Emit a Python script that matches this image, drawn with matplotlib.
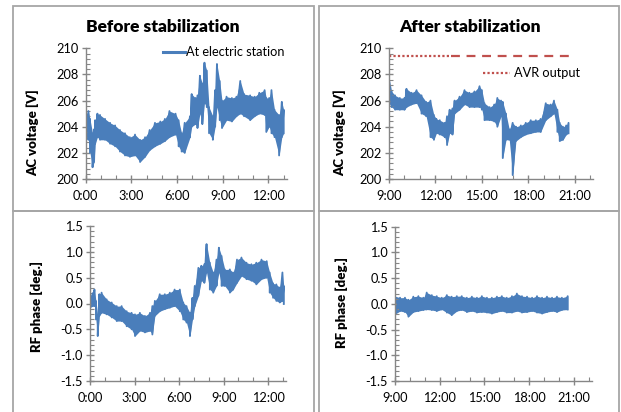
import matplotlib
matplotlib.use("Agg")
import matplotlib.pyplot as plt
from matplotlib.patches import Rectangle
from matplotlib.lines import Line2D

plt.rcParams['font.family'] = ['Lato', 'DejaVu Sans']

# ---------------- data (hours, upper / lower edge of the noisy trace) ----------------
before_v_time = [0.00, 0.18, 0.28, 0.45, 0.55, 0.62, 0.77, 0.94, 1.27, 1.60, 1.93, 2.25, 2.58,
                 2.90, 3.24, 3.57, 3.90, 4.20, 4.55, 4.90, 5.20, 5.50, 5.90, 6.10, 6.30, 6.50,
                 6.85, 6.96, 7.20, 7.34, 7.50, 7.66, 7.80, 7.95, 8.10, 8.35, 8.50, 8.62, 8.80,
                 8.95, 9.25, 9.60, 9.90, 10.15, 10.40, 10.80, 11.10, 11.40, 11.75, 11.86, 12.05,
                 12.20, 12.40, 12.70, 12.88, 13.00]
before_v_high = [204.9, 205.2, 204.6, 203.5, 203.8, 204.5, 205.0, 204.9, 204.6, 204.3, 204.1, 203.75,
                 203.5, 203.2, 203.4, 203.0, 203.2, 203.75, 204.3, 204.4, 204.6, 205.2, 205.0, 204.5,
                 203.5, 204.3, 204.8, 206.5, 206.2, 206.4, 207.9, 207.3, 208.9, 208.3, 205.5, 204.8,
                 206.8, 208.8, 207.5, 206.0, 206.3, 206.2, 206.3, 207.5, 206.5, 206.4, 206.3, 206.6,
                 206.8, 206.2, 206.2, 206.8, 205.3, 204.9, 205.9, 205.3]
before_v_low = [203.1, 203.0, 202.0, 200.9, 201.3, 202.7, 203.2, 203.0, 203.0, 202.7, 202.5, 202.1,
                201.8, 201.7, 201.8, 201.3, 201.7, 202.2, 202.5, 202.7, 202.9, 203.2, 203.4, 202.5,
                202.1, 202.0, 203.2, 204.0, 204.2, 203.9, 205.0, 204.2, 205.8, 205.5, 203.5, 203.0,
                204.0, 205.5, 204.5, 203.9, 204.5, 204.4, 204.8, 205.0, 204.8, 204.5, 204.8, 205.0,
                204.9, 203.6, 204.0, 203.5, 203.2, 201.8, 203.2, 203.5]

after_v_time = [9.00, 9.17, 9.39, 9.70, 10.00, 10.13, 10.46, 10.78, 11.10, 11.40, 11.68, 11.90,
                12.06, 12.28, 12.60, 12.75, 12.92, 13.10, 13.24, 13.56, 13.88, 14.20, 14.52, 14.85,
                15.00, 15.17, 15.50, 15.80, 16.00, 16.24, 16.35, 16.56, 16.77, 16.99, 17.20, 17.52,
                17.84, 18.16, 18.49, 18.80, 19.13, 19.45, 19.66, 19.88, 20.03, 20.24, 20.45, 20.60]
after_v_high = [207.8, 206.7, 206.4, 206.2, 206.2, 206.9, 206.6, 206.8, 206.4, 205.9, 206.0, 204.9,
                204.6, 204.5, 204.3, 204.8, 205.3, 205.4, 206.0, 206.3, 206.8, 206.6, 206.7, 207.1,
                206.8, 205.8, 205.5, 205.7, 206.2, 206.0, 205.9, 205.0, 203.8, 204.3, 204.0, 204.1,
                204.3, 204.5, 204.5, 204.6, 205.8, 205.7, 206.0, 205.3, 204.3, 204.0, 204.1, 204.3]
after_v_low = [205.8, 205.5, 205.3, 205.3, 205.3, 205.5, 205.7, 205.8, 205.0, 204.8, 203.2, 203.0,
               203.5, 203.4, 203.2, 202.6, 203.5, 203.4, 205.0, 205.3, 205.7, 205.5, 205.5, 205.5,
               205.3, 204.5, 204.5, 204.4, 204.0, 204.8, 201.6, 203.0, 203.0, 200.3, 202.9, 203.2,
               203.4, 203.5, 203.6, 203.6, 204.5, 204.8, 205.0, 203.6, 202.9, 203.0, 203.4, 203.5]

avr_level = 209.4
avr_dotted_span = [9.0, 13.0]
avr_dashed_span = [13.0, 20.6]

before_p_time = [0.00, 0.18, 0.30, 0.40, 0.52, 0.63, 0.78, 1.12, 1.46, 1.80, 2.13, 2.47, 2.80,
                 3.03, 3.36, 3.70, 4.04, 4.20, 4.37, 4.70, 5.04, 5.38, 5.70, 6.05, 6.28, 6.50,
                 6.73, 6.90, 7.06, 7.30, 7.50, 7.70, 7.85, 8.07, 8.30, 8.52, 8.68, 8.86, 9.08,
                 9.42, 9.64, 9.90, 10.20, 10.54, 10.87, 11.20, 11.55, 11.90, 12.10, 12.33, 12.55,
                 12.78, 12.96, 13.05]
before_p_high = [0.15, 0.20, 0.27, 0.05, -0.24, 0.18, 0.21, 0.08, 0.02, -0.05, -0.05, -0.15, -0.18,
                 -0.21, -0.18, -0.24, -0.18, -0.05, 0.05, 0.18, 0.18, 0.21, 0.27, 0.27, 0.02, -0.05,
                 -0.18, 0.11, 0.34, 0.69, 0.73, 0.76, 1.15, 0.79, 0.60, 0.85, 1.08, 0.92, 0.66,
                 0.66, 0.60, 0.85, 0.89, 0.79, 0.76, 0.79, 0.85, 0.82, 0.60, 0.39, 0.37, 0.31, 0.60, 0.34]
before_p_low = [-0.08, -0.05, -0.05, -0.31, -0.63, -0.24, -0.18, -0.21, -0.27, -0.34, -0.34, -0.44,
                -0.50, -0.63, -0.53, -0.56, -0.53, -0.60, -0.24, -0.15, -0.11, -0.08, -0.05, -0.15,
                -0.31, -0.37, -0.63, -0.31, -0.05, 0.15, 0.44, 0.40, 0.60, 0.27, 0.21, 0.34, 0.60,
                0.34, 0.34, 0.21, 0.27, 0.40, 0.53, 0.47, 0.44, 0.37, 0.47, 0.50, 0.21, 0.11, 0.05,
                0.02, 0.05, -0.01]

after_p_time = [9.00, 9.34, 9.67, 9.90, 10.23, 10.57, 10.90, 11.13, 11.47, 11.80, 12.14, 12.48,
                12.80, 13.15, 13.48, 13.82, 14.16, 14.50, 14.83, 15.17, 15.50, 15.84, 16.17, 16.50,
                16.85, 17.18, 17.52, 17.86, 18.20, 18.53, 18.87, 19.20, 19.54, 19.87, 20.20, 20.59]
after_p_high = [0.15, 0.12, 0.12, 0.08, 0.14, 0.15, 0.12, 0.22, 0.17, 0.15, 0.12, 0.17, 0.14, 0.15,
                0.15, 0.12, 0.14, 0.12, 0.15, 0.12, 0.12, 0.14, 0.15, 0.12, 0.15, 0.20, 0.15, 0.14,
                0.12, 0.15, 0.12, 0.14, 0.12, 0.14, 0.12, 0.15]
after_p_low = [-0.20, -0.14, -0.16, -0.25, -0.16, -0.14, -0.12, -0.11, -0.12, -0.14, -0.11, -0.17,
               -0.22, -0.14, -0.12, -0.16, -0.14, -0.17, -0.16, -0.17, -0.19, -0.16, -0.14, -0.17,
               -0.17, -0.14, -0.17, -0.16, -0.14, -0.17, -0.19, -0.16, -0.14, -0.16, -0.12, -0.11]

left_xticks = [0, 3, 6, 9, 12]
left_xticklabels = ["0:00", "3:00", "6:00", "9:00", "12:00"]
right_xticks = [9, 12, 15, 18, 21]
right_xticklabels = ["9:00", "12:00", "15:00", "18:00", "21:00"]
volt_ticks = [200, 202, 204, 206, 208, 210]
phase_ticks = [-1.5, -1.0, -0.5, 0.0, 0.5, 1.0, 1.5]
phase_ticklabels = ["-1.5", "-1.0", "-0.5", "0.0", "0.5", "1.0", "1.5"]

titles = ["Before stabilization", "After stabilization"]
volt_label = "AC voltage [V]"
phase_label = "RF phase [deg.]"
legend_station = "At electric station"
legend_avr = "AVR output"

# ---------------- figure ----------------
W, H = 621, 412
fig = plt.figure(figsize=(W / 100, H / 100), dpi=100)
BLUE = '#4A7EBB'
RED = '#C0504D'
AX_GRAY = '#868686'
TICK_FS = 9.2


def px_axes(x0, y0, x1, y1):
    return fig.add_axes([x0 / W, 1 - y1 / H, (x1 - x0) / W, (y1 - y0) / H])


def fx(x):
    return x / W


def fy(y):
    return 1 - y / H


# panel borders
for (x0, y0, x1, y1) in [(13.3, 6, 313.7, 211), (319.3, 6, 619.3, 211),
                         (13.3, 211, 313.7, 420), (319.3, 211, 619.3, 420)]:
    fig.patches.append(Rectangle((fx(x0), fy(y1)), (x1 - x0) / W, (y1 - y0) / H,
                                 transform=fig.transFigure, fill=False,
                                 edgecolor='#A6A6A6', linewidth=1.3))


def style(ax, xlim, xticks, xlabels, ylim, yticks, ylabels, yminor):
    ax.set_xlim(*xlim)
    ax.set_ylim(*ylim)
    ax.set_xticks(xticks)
    ax.set_xticklabels(xlabels)
    ax.set_xticks([h for h in range(int(xlim[0]), int(xlim[1]) + 1)], minor=True)
    ax.set_yticks(yticks)
    ax.set_yticklabels(ylabels)
    ax.set_yticks(yminor, minor=True)
    for s in ['top', 'right']:
        ax.spines[s].set_visible(False)
    for s in ['left', 'bottom']:
        ax.spines[s].set_color(AX_GRAY)
        ax.spines[s].set_linewidth(1.0)
    ax.tick_params(which='major', direction='inout', length=6, width=1.0, color=AX_GRAY,
                   labelsize=TICK_FS, labelcolor='black', pad=2)
    ax.tick_params(which='minor', direction='in', length=3, width=0.8, color=AX_GRAY)
    ax.tick_params(axis='x', which='major', pad=5)
    ax.set_facecolor('none')


def draw_band(ax, t, hi, lo):
    ax.fill_between(t, lo, hi, color=BLUE, linewidth=0)
    zt, zv = [], []
    for a, b, c in zip(t, hi, lo):
        zt += [a, a]
        zv += [b, c]
    ax.plot(zt, zv, color=BLUE, linewidth=1.3, solid_joinstyle='round')


volt_minor = [200 + 0.4 * i for i in range(26)]
phase_minor = [-1.5 + 0.1 * i for i in range(31)]

# top-left
ax1 = px_axes(85.7, 48.3, 286.7, 179)
draw_band(ax1, before_v_time, before_v_high, before_v_low)
style(ax1, (0, 13.2), left_xticks, left_xticklabels, (200, 210), volt_ticks,
      [str(v) for v in volt_ticks], volt_minor)

# top-right
ax2 = px_axes(389, 48.3, 593.3, 179)
draw_band(ax2, after_v_time, after_v_high, after_v_low)
ax2.plot(avr_dotted_span, [avr_level, avr_level], color=RED, linewidth=1.6,
         linestyle=(0, (1, 1)))
ax2.plot(avr_dashed_span, [avr_level, avr_level], color=RED, linewidth=1.6,
         linestyle=(0, (4, 3)))
style(ax2, (9, 22.2), right_xticks, right_xticklabels, (200, 210), volt_ticks,
      [str(v) for v in volt_ticks], volt_minor)

# bottom-left
ax3 = px_axes(90, 226, 286, 381)
draw_band(ax3, before_p_time, before_p_high, before_p_low)
style(ax3, (0, 13.2), left_xticks, left_xticklabels, (-1.5, 1.5), phase_ticks,
      phase_ticklabels, phase_minor)

# bottom-right
ax4 = px_axes(395, 226.7, 591.7, 381)
draw_band(ax4, after_p_time, after_p_high, after_p_low)
style(ax4, (9, 22.2), right_xticks, right_xticklabels, (-1.5, 1.5), phase_ticks,
      phase_ticklabels, phase_minor)

# titles
fig.text(fx(163), fy(27), titles[0], ha='center', va='center', fontsize=12.5, fontweight='heavy')
fig.text(fx(470), fy(27), titles[1], ha='center', va='center', fontsize=12.5, fontweight='heavy')

# y labels
for (x, y, s) in [(33, 133, volt_label), (340, 133, volt_label),
                  (37, 306, phase_label), (342, 303, phase_label)]:
    fig.text(fx(x), fy(y), s, rotation=90, ha='center', va='center', fontsize=9.5,
             fontweight='heavy')

# legends
fig.lines.append(Line2D([fx(163), fx(185)], [fy(52), fy(52)], transform=fig.transFigure,
                        color=BLUE, linewidth=2.2))
fig.text(fx(186), fy(52), legend_station, ha='left', va='center', fontsize=TICK_FS)
fig.lines.append(Line2D([fx(483), fx(510)], [fy(73), fy(73)], transform=fig.transFigure,
                        color=RED, linewidth=1.6, linestyle=(0, (1, 1))))
fig.text(fx(514), fy(73), legend_avr, ha='left', va='center', fontsize=TICK_FS)

fig.savefig("out.png", dpi=100)
